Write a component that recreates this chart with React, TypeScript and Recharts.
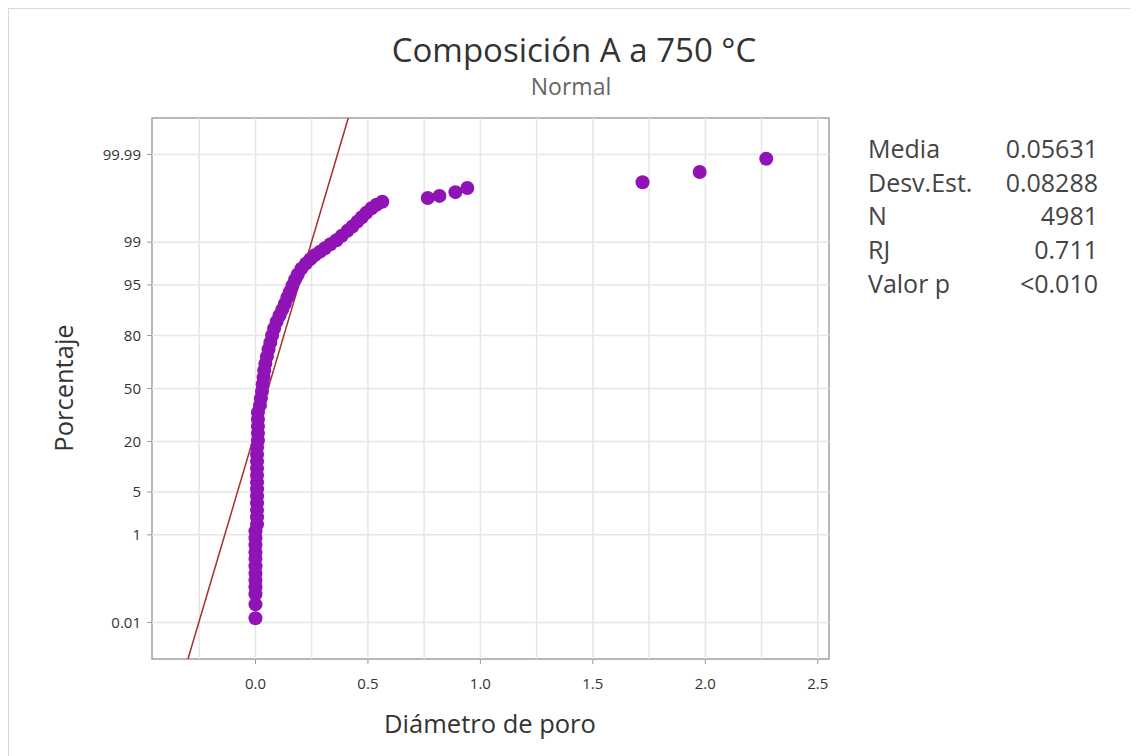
import { ScatterChart, Scatter, XAxis, YAxis, ReferenceLine, ReferenceArea } from "recharts"

// pore diameter (x) and plotted percentage (y)
const diameter = [
  0.0, 0.0, 0.0, 0.0, 0.0, 0.0, 0.0, 0.0, 0.0, 0.0, 0.0, 0.0,
  0.007, 0.007, 0.007, 0.007, 0.007, 0.007, 0.007, 0.007, 0.007, 0.007, 0.007, 0.007,
  0.011, 0.011, 0.011, 0.011, 0.011,
  0.02, 0.024, 0.029, 0.032, 0.036, 0.039, 0.044, 0.051, 0.058, 0.066,
  0.074, 0.083, 0.094, 0.107, 0.119, 0.131, 0.142, 0.153, 0.164, 0.176,
  0.188, 0.204, 0.224, 0.244, 0.264, 0.287, 0.309, 0.333, 0.36, 0.384,
  0.409, 0.431, 0.453, 0.473, 0.493, 0.516, 0.538, 0.564,
  0.766, 0.818, 0.889, 0.942, 1.721, 1.975, 2.271,
]
const percent = [
  0.013, 0.03, 0.054, 0.079, 0.114, 0.164, 0.236, 0.34, 0.46, 0.64, 0.87, 1.16,
  1.54, 2.03, 2.64, 3.4, 4.33, 5.45, 6.78, 8.36, 10.2, 12.3, 14.7, 17.4,
  20.5, 23.8, 27.3, 31.1, 35.2,
  39.4, 43.7, 48.1, 52.5, 56.9, 61.3, 65.4, 69.4, 73.2, 76.7,
  80.0, 83.0, 85.6, 87.7, 89.5, 91.1, 92.6, 93.8, 94.9, 95.8,
  96.5, 97.16, 97.64, 98.01, 98.3, 98.52, 98.71, 98.91, 99.08, 99.24,
  99.39, 99.5, 99.6, 99.676, 99.74, 99.792, 99.826, 99.85,
  99.877, 99.89, 99.91, 99.928, 99.948, 99.971, 99.987,
]

const statLabels = ["Media", "Desv.Est.", "N", "RJ", "Valor p"]
const statValues = ["0.05631", "0.08288", "4981", "0.711", "<0.010"]
const mean = 0.05631
const stdev = 0.08288

const xTicks = [0, 0.5, 1, 1.5, 2, 2.5]
const xGrid = [-0.25, 0, 0.25, 0.5, 0.75, 1, 1.25, 1.5, 1.75, 2, 2.25, 2.5]
const yTickLabels = ["0.01", "1", "5", "20", "50", "80", "95", "99", "99.99"]

const DOT = "#9013b6"
const FIT = "#a3312b"
const FONT = "'Open Sans', 'Noto Sans', sans-serif"

// inverse normal CDF (Acklam) - used for the probability axis
function probit(p: number): number {
  const a = [-39.69683028665376, 220.9460984245205, -275.9285104469687, 138.357751867269, -30.66479806614716, 2.506628277459239]
  const b = [-54.47609879822406, 161.5858368580409, -155.6989798598866, 66.80131188771972, -13.28068155288572]
  const c = [-0.007784894002430293, -0.3223964580411365, -2.400758277161838, -2.549732539343734, 4.374664141464968, 2.938163982698783]
  const d = [0.007784695709041462, 0.3224671290700398, 2.445134137142996, 3.754408661907416]
  const tail = (q: number) =>
    (((((c[0] * q + c[1]) * q + c[2]) * q + c[3]) * q + c[4]) * q + c[5]) /
    ((((d[0] * q + d[1]) * q + d[2]) * q + d[3]) * q + 1)
  if (p < 0.02425) return tail(Math.sqrt(-2 * Math.log(p)))
  if (p > 1 - 0.02425) return -tail(Math.sqrt(-2 * Math.log(1 - p)))
  const q = p - 0.5
  const r = q * q
  return (
    ((((((a[0] * r + a[1]) * r + a[2]) * r + a[3]) * r + a[4]) * r + a[5]) * q) /
    (((((b[0] * r + b[1]) * r + b[2]) * r + b[3]) * r + b[4]) * r + 1)
  )
}

const points = diameter.map((x, i) => ({ x, z: probit(percent[i] / 100) }))
const yTicks = yTickLabels.map((l) => probit(parseFloat(l) / 100))

const X_MIN = -0.46
const X_MAX = 2.55
const Z_MIN = -4.3
const Z_MAX = 4.3

const fitLine = [
  { x: mean + stdev * Z_MIN, y: Z_MIN },
  { x: mean + stdev * Z_MAX, y: Z_MAX },
]

const tickStyle = { fontSize: 15, fill: "#333", fontFamily: FONT }

export default function App() {
  return (
    <div
      style={{
        position: "relative",
        width: 1130,
        height: 748,
        boxSizing: "border-box",
        borderTop: "1px solid #d9d9d9",
        borderLeft: "1px solid #d9d9d9",
        fontFamily: FONT,
        color: "#333",
      }}
    >
      <div style={{ position: "absolute", left: 565, top: 40, transform: "translate(-50%, -50%)", fontSize: 33, whiteSpace: "nowrap", color: "#333" }}>
        Composición A a 750 °C
      </div>
      <div style={{ position: "absolute", left: 562, top: 77, transform: "translate(-50%, -50%)", fontSize: 23, color: "#666" }}>
        Normal
      </div>

      <ScatterChart width={1129} height={747} margin={{ top: 109, right: 309, bottom: 67, left: 83 }}>
        {xGrid.map((v) => (
          <ReferenceLine key={"gx" + v} x={v} stroke="#e6e6e6" strokeWidth={1.5} />
        ))}
        {yTicks.map((v) => (
          <ReferenceLine key={"gy" + v} y={v} stroke="#e6e6e6" strokeWidth={1.5} />
        ))}
        <XAxis
          type="number"
          dataKey="x"
          domain={[X_MIN, X_MAX]}
          allowDataOverflow
          ticks={xTicks}
          tickFormatter={(v: number) => v.toFixed(1)}
          height={30}
          tickSize={5}
          tickMargin={14}
          axisLine={false}
          tickLine={{ stroke: "#999" }}
          tick={tickStyle}
        />
        <YAxis
          type="number"
          dataKey="z"
          domain={[Z_MIN, Z_MAX]}
          allowDataOverflow
          ticks={yTicks}
          tickFormatter={(v: number) => yTickLabels[yTicks.indexOf(v)] ?? ""}
          width={60}
          tickSize={5}
          tickMargin={6}
          axisLine={false}
          tickLine={{ stroke: "#999" }}
          tick={tickStyle}
        />
        <ReferenceLine segment={fitLine} stroke={FIT} strokeWidth={1.5} />
        <Scatter
          data={points}
          isAnimationActive={false}
          shape={(p: any) => <circle cx={p.cx} cy={p.cy} r={7} fill={DOT} />}
        />
        <ReferenceArea x1={X_MIN} x2={X_MAX} y1={Z_MIN} y2={Z_MAX} fill="none" fillOpacity={0} stroke="#a0a0a0" strokeWidth={1.5} />
      </ScatterChart>

      <div style={{ position: "absolute", left: 481, top: 714, transform: "translate(-50%, -50%)", fontSize: 25.5, whiteSpace: "nowrap", color: "#333" }}>
        Diámetro de poro
      </div>
      <div style={{ position: "absolute", left: 54, top: 379, transform: "translate(-50%, -50%) rotate(-90deg)", fontSize: 25.5, whiteSpace: "nowrap", color: "#333" }}>
        Porcentaje
      </div>

      {statLabels.map((label, i) => (
        <div key={label} style={{ position: "absolute", left: 859, top: 124 + i * 33.7, width: 230, display: "flex", justifyContent: "space-between", fontSize: 25, color: "#444", lineHeight: "30px" }}>
          <span>{label}</span>
          <span>{statValues[i]}</span>
        </div>
      ))}
    </div>
  )
}
